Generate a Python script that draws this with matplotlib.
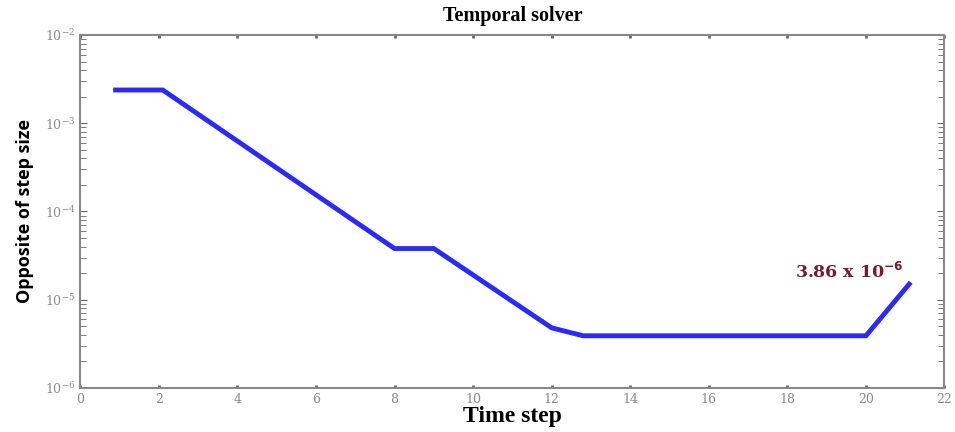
import matplotlib
matplotlib.use('Agg')
import matplotlib.pyplot as plt
from matplotlib.ticker import LogLocator, FixedLocator, NullFormatter

# Data
time_step = [0.9, 2.1, 8.0, 9.0, 12.0, 12.8, 20.0, 21.1]
step_inv = [2.38e-3, 2.38e-3, 3.8e-5, 3.8e-5, 4.8e-6, 3.9e-6, 3.9e-6, 1.5e-5]
x_ticks = [0, 2, 4, 6, 8, 10, 12, 14, 16, 18, 20, 22]

fig = plt.figure(figsize=(9.55, 4.32), dpi=100)
ax = fig.add_axes([0.084, 0.102, 0.905, 0.817])

ax.plot(time_step, step_inv, color='#2a2aff', linewidth=3.5, solid_joinstyle='miter')

ax.set_yscale('log')
ax.set_xlim(0, 22)
ax.set_ylim(1e-6, 1e-2)

# ticks
grey = '#8a8a8a'
ax.xaxis.set_major_locator(FixedLocator(x_ticks))
ax.yaxis.set_major_locator(LogLocator(base=10, numticks=10))
ax.yaxis.set_minor_locator(LogLocator(base=10, subs=range(2, 10), numticks=20))
ax.yaxis.set_minor_formatter(NullFormatter())
ax.tick_params(axis='both', which='both', direction='in', colors='#666666',
               labelcolor=grey, labelsize=9, top=True, right=True)
ax.tick_params(axis='x', which='major', length=2, width=2)
ax.tick_params(axis='y', which='major', length=5)
ax.tick_params(axis='y', which='minor', length=4)
for lbl in ax.get_xticklabels() + ax.get_yticklabels():
    lbl.set_family('DejaVu Serif')

for s in ax.spines.values():
    s.set_color('#888888')
    s.set_linewidth(1.5)

ax.set_title('Temporal solver', fontsize=14.5, fontweight='bold',
             family='Liberation Serif', pad=10)
ax.set_xlabel('Time step', fontsize=17, fontweight='bold',
              family='Liberation Serif', labelpad=0)
ax.set_ylabel('Opposite of step size', fontsize=13, fontweight='bold',
              family='Open Sans', labelpad=8)

ax.text(18.2, 1.75e-5, r'3.86 x 10$^{\mathbf{-6}}$', color='#7a1a2a',
        fontsize=12.5, fontweight='bold', family='DejaVu Serif')

fig.savefig('out.png', dpi=100)
